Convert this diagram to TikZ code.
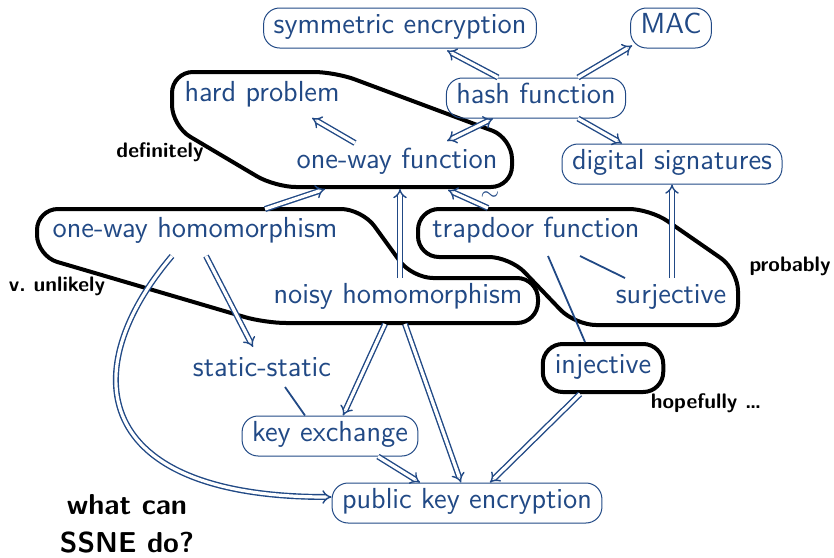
\documentclass[tikz,border=0pt]{standalone}
\usetikzlibrary{arrows.meta,calc}
\renewcommand{\familydefault}{\sfdefault}
\definecolor{tblue}{RGB}{33,73,133}
\begin{document}
\begin{tikzpicture}[x=0.5pt,y=-0.5pt,
  txt/.style={text=tblue,font=\fontsize{14.5}{17}\selectfont,text height=0.75em,text depth=0.22em,inner xsep=5pt,inner ysep=2.8pt},
  boxn/.style={txt,draw=tblue,line width=0.5pt,rounded corners=8pt,minimum height=20pt},
  imp/.style={draw=tblue,double,double distance=1.6pt,line width=0.7pt,-{Implies}},
  dimp/.style={draw=tblue,double,double distance=1.6pt,line width=0.7pt,{Implies}-{Implies}},
  pl/.style={draw=tblue,line width=0.9pt},
  hull/.style={draw=black,line width=2pt,rounded corners=10.5pt},
  lab/.style={font=\fontsize{10.5}{12}\selectfont\bfseries,text=black,inner sep=0pt},
  biglab/.style={font=\fontsize{14.4}{17}\selectfont\bfseries,text=black,inner sep=0pt}]
\useasboundingbox (0,0) rectangle (834,557);
% hulls (start mid-edge so every corner is rounded)
\draw[hull] (250,72) -- (335,72) -- (512,138) -- (512,187) -- (275,187) -- (172,126) -- (172,72) -- cycle;
\draw[hull] (200,209) -- (362,209) -- (412,278) -- (538,278) -- (538,323) -- (265,323) -- (37,256) -- (37,209) -- cycle;
\draw[hull] (530,209) -- (650,209) -- (738,270) -- (738,325) -- (575,325) -- (510,257) -- (418,257) -- (418,209) -- cycle;
% nodes
\node[boxn] (sym) at (400,28) {symmetric encryption};
\node[boxn] (mac) at (671,28) {MAC};
\node[boxn] (hash) at (536,98) {hash function};
\node[txt] (hard) at (262,96) {hard problem};
\node[txt] (owf) at (397,163) {one-way function};
\node[boxn] (dig) at (672,164) {digital signatures};
\node[txt] (owh) at (195,232) {one-way homomorphism};
\node[txt] (trap) at (536,232) {trapdoor function};
\node[txt] (noisy) at (398,298) {noisy homomorphism};
\node[txt] (surj) at (671,298) {surjective};
\node[txt] (static) at (262,371) {static-static};
\node[txt,draw=black,line width=2pt,rounded corners=10pt,inner xsep=6pt,minimum height=24pt] (inj) at (603,368) {injective};
\node[boxn] (kex) at (330,436) {key exchange};
\node[boxn] (pke) at (467,503) {public key encryption};
% labels
\node[lab] (l1) at (160,152) {definitely};
\node[lab] (l2) at (57,286) {v.\ unlikely};
\node[lab] (l3) at (790,266) {probably};
\node[lab] (l4) at (706,403) {hopefully \dots};
\node[biglab] (l5) at (127,505) {what can};
\node[biglab] (l6) at (127,542) {SSNE do?};
\node[text=tblue,inner sep=0pt,font=\fontsize{12}{12}\selectfont] (tl) at (490,196) {$\sim$};
% connectors
\draw[imp] ($(hash.north)+(-38,0)$) -- ($(sym.south)+(47,2)$);
\draw[imp] ($(hash.north)+(42,0)$) -- ($(mac.south west)+(2,-3)$);
\draw[imp] ($(hash.south)+(42,0)$) -- ($(dig.north)+(-50,0)$);
\draw[dimp] ($(hash.south)+(-43,0)$) -- ($(owf.center)+(50,-22)$);
\draw[imp] ($(owf.center)+(-42,-20)$) -- ($(hard.center)+(50,22)$);
\draw[imp] ($(owh.center)+(70,-23)$) -- ($(owf.center)+(-72,26)$);
\draw[imp] ($(noisy.center)+(2,-20)$) -- ($(owf.center)+(3,26)$);
\draw[imp] ($(trap.center)+(-48,-24)$) -- ($(owf.center)+(51,27)$);
\draw[imp] ($(surj.center)+(1,-20)$) -- (dig.south);
\draw[imp] ($(owh.center)+(11,24)$) -- ($(static.center)+(-9,-24)$);
\draw[imp] ($(owh.center)+(-23,24)$) .. controls (75,370) and (90,497) .. ($(pke.west)+(0,-6)$);
\draw[pl] ($(static.center)+(23,16)$) -- ($(kex.north)+(-25,0)$);
\draw[imp] ($(noisy.center)+(-13,26)$) -- ($(kex.north)+(13,0)$);
\draw[imp] ($(noisy.center)+(7,26)$) -- ($(pke.north)+(-6,0)$);
\draw[imp] ($(kex.south)+(48,0)$) -- ($(pke.north)+(-47,0)$);
\draw[imp] ($(inj.south)+(-23,0)$) -- ($(pke.north)+(23,0)$);
\draw[pl] ($(trap.center)+(12,24)$) -- ($(inj.north)+(-18,0)$);
\draw[pl] ($(trap.center)+(44,24)$) -- ($(surj.center)+(-46,-20)$);
\end{tikzpicture}
\end{document}
